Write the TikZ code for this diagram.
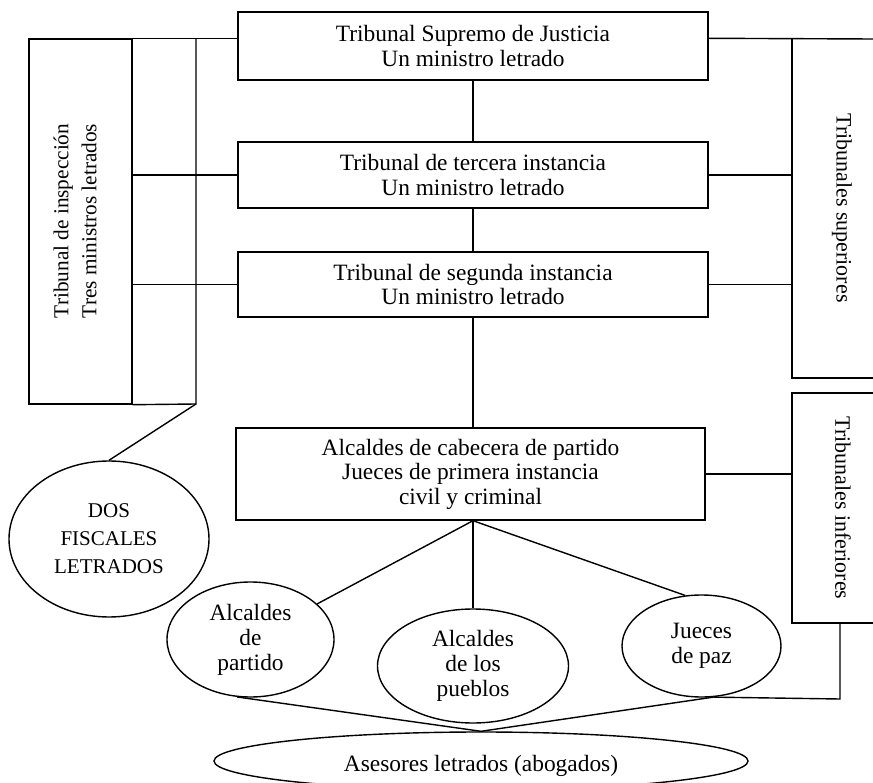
\documentclass[tikz,border=0pt]{standalone}
\usepackage{fontspec}
\setmainfont{Liberation Serif}
\usetikzlibrary{shapes.geometric}
\begin{document}
\begin{tikzpicture}[x=1pt,y=-1pt, line width=1.4pt,
 box/.style={draw, rectangle, inner sep=0pt, align=center, font=\fontsize{23.4}{24.5}\selectfont},
 ell/.style={draw, ellipse, inner sep=0pt, align=center, font=\fontsize{23.4}{25}\selectfont},
 vtext/.style={align=center, inner sep=0pt, font=\fontsize{22}{28}\selectfont},
]
\useasboundingbox (0,0) rectangle (873,783);
% central boxes
\node[box, minimum width=470pt, minimum height=68pt] (sup) at (473,46) {Tribunal Supremo de Justicia\\Un ministro letrado};
\node[box, minimum width=470pt, minimum height=66pt] (ter) at (473,175) {Tribunal de tercera instancia\\Un ministro letrado};
\node[box, minimum width=470pt, minimum height=65pt] (seg) at (473,284.5) {Tribunal de segunda instancia\\Un ministro letrado};
\node[box, minimum width=469pt, minimum height=92pt] (alc) at (470.5,474) {Alcaldes de cabecera de partido\\Jueces de primera instancia\\civil y criminal};
\draw (sup) -- (ter);
\draw (ter) -- (seg);
\draw (seg.south) -- (seg.south |- alc.north);
% left inspection tribunal
\node[draw, rectangle, minimum width=103pt, minimum height=365pt, inner sep=0pt] (insp) at (80.5,221.5) {};
\node[vtext, rotate=90, font=\fontsize{21.3}{28}\selectfont] (insptext) at (75,221) {Tribunal de inspección\\Tres ministros letrados};
\coordinate (ltop) at (196,39);
\coordinate (lbot) at (196,404);
\draw (insp.north west) -- (sup.west |- insp.north);
\draw (ltop) -- (lbot) -- (insp.south east);
\draw (insp.east |- ter.west) -- (ter.west);
\draw (insp.east |- seg.west) -- (seg.west);
% right: tribunales superiores
\coordinate (redge) at (873,39);
\coordinate (s1) at (792,39);
\coordinate (s2) at (792,378);
\coordinate (s3) at (873,378);
\draw (sup.east |- insp.north) -- (redge);
\draw (s1) -- (s2) -- (s3);
\draw (ter.east) -- (ter.east -| s1);
\draw (seg.east) -- (seg.east -| s1);
\node[vtext, rotate=-90] (suptext) at (842,208) {Tribunales superiores};
% right: tribunales inferiores
\coordinate (i1) at (873,393);
\coordinate (i2) at (792,393);
\coordinate (i3) at (792,623);
\coordinate (i4) at (873,623);
\draw (i1) -- (i2) -- (i3) -- (i4);
\draw (alc.east) -- (alc.east -| i2);
\node[vtext, rotate=-90] (inftext) at (843,508) {Tribunales inferiores};
% ellipses
\node[ell, minimum width=200pt, minimum height=156pt, font=\fontsize{21}{28}\selectfont] (fis) at (109,539) {DOS\\FISCALES\\LETRADOS};
\draw (lbot) -- (fis.north);
\node[ell, minimum width=167pt, minimum height=115pt] (par) at (250.5,639.5) {Alcaldes\\de\\partido};
\node[ell, minimum width=191pt, minimum height=114pt] (pue) at (473,666) {Alcaldes\\de los\\pueblos};
\node[ell, minimum width=159pt, minimum height=102pt] (jue) at (701.5,646) {Jueces\\de paz};
\node[ell, minimum width=534pt, minimum height=58pt] (ase) at (481,761) {};
\node[font=\fontsize{23.4}{25}\selectfont, inner sep=0pt] (asetext) at ([yshift=-5pt]ase.center) {Asesores letrados (abogados)};
\coordinate (a4) at (seg.south |- alc.south);
\draw (a4) -- (par);
\draw (a4) -- (pue.north);
\draw (a4) -- (jue.108);
\draw (par.257) -- (ase.north);
\draw (jue.283) -- (ase.north);
\coordinate (jr) at (840,699);
\draw (jue.283) -- (jr) -- (jr |- i3);
\end{tikzpicture}
\end{document}
